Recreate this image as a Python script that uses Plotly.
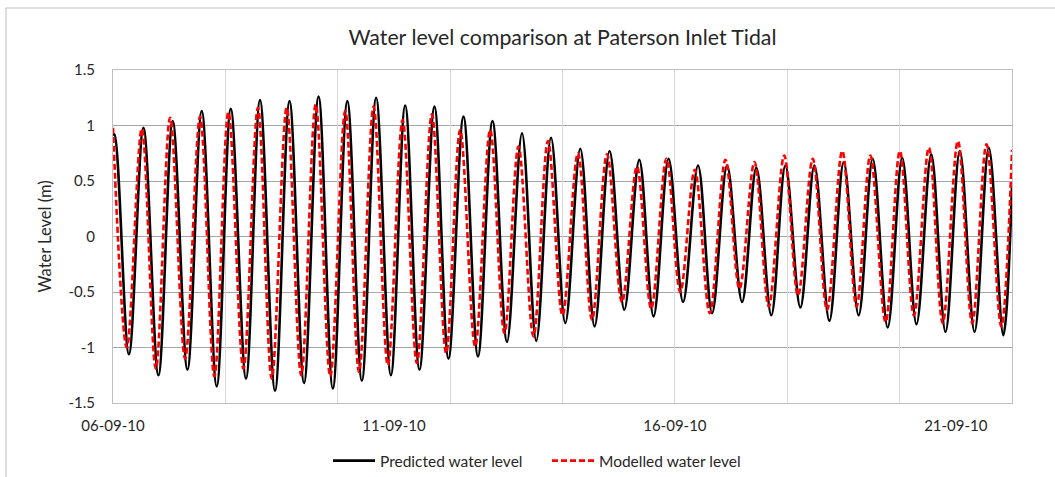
import pandas as pd
import plotly.graph_objects as go

start = pd.Timestamp("2010-09-06 00:00")

# Predicted water level: successive high/low water readings (hours since 06-09-10 00:00, metres)
pred_hours = [0.0, 0.6, 6.8, 13.0, 19.4, 25.5, 31.8, 37.9, 44.3, 50.3, 56.8, 62.8, 69.2, 75.4, 81.6,
              87.8, 93.9, 100.1, 106.3, 112.4, 118.7, 124.8, 130.9, 137.3, 143.3, 149.7, 155.9,
              162.1, 168.3, 174.7, 180.8, 187.1, 193.2, 199.6, 205.7, 212.1, 218.4, 224.8, 230.9,
              237.3, 243.5, 249.9, 255.9, 262.3, 268.7, 274.8, 281.2, 287.2, 293.6, 299.6, 306.0,
              312.1, 318.5, 324.5, 330.9, 337.1, 343.2, 349.5, 355.6, 361.7, 368.0, 374.1, 380.3,
              384.0]
pred_level = [0.91, 0.92, -1.06, 0.98, -1.25, 1.04, -1.20, 1.13, -1.35, 1.15, -1.28, 1.23, -1.39,
              1.22, -1.32, 1.26, -1.37, 1.22, -1.30, 1.25, -1.25, 1.18, -1.20, 1.17, -1.10, 1.08,
              -1.08, 1.04, -0.95, 0.93, -0.94, 0.89, -0.78, 0.79, -0.81, 0.77, -0.66, 0.69, -0.72,
              0.70, -0.59, 0.64, -0.69, 0.64, -0.59, 0.62, -0.71, 0.64, -0.64, 0.64, -0.76, 0.67,
              -0.71, 0.70, -0.82, 0.71, -0.79, 0.74, -0.86, 0.77, -0.86, 0.80, -0.89, 0.45]

# Modelled water level
model_hours = [0.0, 5.9, 12.3, 18.3, 24.4, 30.8, 37.2, 43.3, 49.3, 55.7, 61.9, 67.8, 74.2, 80.4,
               86.6, 92.8, 99.2, 105.1, 111.3, 117.4, 123.7, 129.8, 136.2, 142.3, 148.3, 154.7,
               161.1, 167.2, 173.2, 179.6, 185.8, 192.0, 198.6, 204.6, 211.0, 217.4, 223.8, 229.9,
               236.4, 242.3, 248.5, 254.9, 261.6, 267.6, 274.0, 280.1, 286.7, 292.6, 298.9, 305.0,
               311.5, 317.6, 323.5, 330.0, 336.1, 342.1, 348.5, 354.4, 360.9, 367.0, 373.1, 379.4,
               384.0]
model_level = [0.98, -1.00, 0.97, -1.19, 1.07, -1.10, 1.08, -1.26, 1.12, -1.19, 1.16, -1.28, 1.16,
               -1.25, 1.19, -1.26, 1.13, -1.22, 1.17, -1.16, 1.05, -1.14, 1.10, -1.05, 0.96, -0.99,
               0.96, -0.87, 0.81, -0.90, 0.86, -0.71, 0.75, -0.75, 0.74, -0.59, 0.63, -0.65, 0.70,
               -0.50, 0.60, -0.69, 0.69, -0.47, 0.67, -0.63, 0.73, -0.53, 0.70, -0.66, 0.77, -0.63,
               0.73, -0.77, 0.77, -0.71, 0.80, -0.78, 0.86, -0.78, 0.83, -0.81, 0.78]

tick_dates = ["2010-09-06", "2010-09-11", "2010-09-16", "2010-09-21"]
tick_labels = ["06-09-10", "11-09-10", "16-09-10", "21-09-10"]
y_ticks = [-1.5, -1, -0.5, 0, 0.5, 1, 1.5]
y_labels = ["-1.5", "-1", "-0.5", "0", "0.5", "1", "1.5"]

pred_x = [start + pd.Timedelta(hours=h) for h in pred_hours]
model_x = [start + pd.Timedelta(hours=h) for h in model_hours]

FONT = "Lato"
TXT = "#262626"

fig = go.Figure()
fig.add_trace(go.Scatter(x=pred_x, y=pred_level, mode="lines", name="Predicted water level",
                         line=dict(color="black", width=2.6, shape="spline", smoothing=1.0)))
fig.add_trace(go.Scatter(x=model_x, y=model_level, mode="lines", name="Modelled water level",
                         line=dict(color="#FF0000", width=2.6, dash="6px,3px", shape="spline", smoothing=1.0)))
# invisible trace on second x-axis for 2-day vertical gridlines
fig.add_trace(go.Scatter(x=[start], y=[0], xaxis="x2", mode="markers", marker=dict(opacity=0),
                         showlegend=False, hoverinfo="skip"))

x0 = "2010-09-06 00:00"
x1 = "2010-09-22 00:00"

L, T, R, B = 113, 70, 1012, 403

fig.update_layout(
    width=1055, height=477,
    margin=dict(l=L, r=1055 - R, t=T, b=477 - B, autoexpand=False),
    paper_bgcolor="white", plot_bgcolor="white",
    title=dict(text="Water level comparison at Paterson Inlet Tidal", x=0.5, xanchor="center",
               y=1 - 38 / 477, yanchor="middle", yref="container", xref="paper",
               font=dict(family=FONT, size=21.3, color=TXT)),
    font=dict(family=FONT, size=15, color=TXT),
    xaxis=dict(range=[x0, x1], type="date", tickmode="array", tickvals=tick_dates, ticktext=tick_labels,
               showgrid=False, showline=True, linecolor="#BFBFBF", linewidth=1, mirror=True,
               ticks="", ticklabelstandoff=9, tickfont=dict(family=FONT, size=15, color=TXT),
               zeroline=False),
    xaxis2=dict(range=[x0, x1], type="date", overlaying="x", dtick=2 * 86400000, tick0=x0,
                showgrid=True, gridcolor="#D9D9D9", gridwidth=1, showticklabels=False, ticks="",
                showline=False, zeroline=False),
    yaxis=dict(range=[-1.5, 1.5], tickvals=y_ticks, ticktext=y_labels,
               showgrid=True, gridcolor="#A6A6A6", gridwidth=1, zeroline=False,
               showline=True, linecolor="#BFBFBF", mirror=True, ticks="",
               ticklabelstandoff=14, tickfont=dict(family=FONT, size=15, color=TXT),
               title=dict(text="Water Level (m)", font=dict(family=FONT, size=16.5, color=TXT), standoff=12)),
    legend=dict(orientation="h", xref="container", x=328 / 1055, xanchor="left",
                yref="container", y=1 - 461 / 477, yanchor="middle",
                font=dict(family=FONT, size=15.5, color=TXT), entrywidth=162, itemwidth=42,
                traceorder="normal", bgcolor="rgba(0,0,0,0)"),
    shapes=[
        dict(type="line", xref="paper", yref="paper",
             x0=(6 - L) / (R - L), x1=(6 - L) / (R - L),
             y0=(B - 490) / (B - T), y1=(B - 8) / (B - T),
             line=dict(color="#BFBFBF", width=1), layer="below"),
        dict(type="line", xref="paper", yref="paper",
             x0=(6 - L) / (R - L), x1=(1070 - L) / (R - L),
             y0=(B - 8) / (B - T), y1=(B - 8) / (B - T),
             line=dict(color="#BFBFBF", width=1), layer="below"),
    ],
)

fig.write_html("out.html")
